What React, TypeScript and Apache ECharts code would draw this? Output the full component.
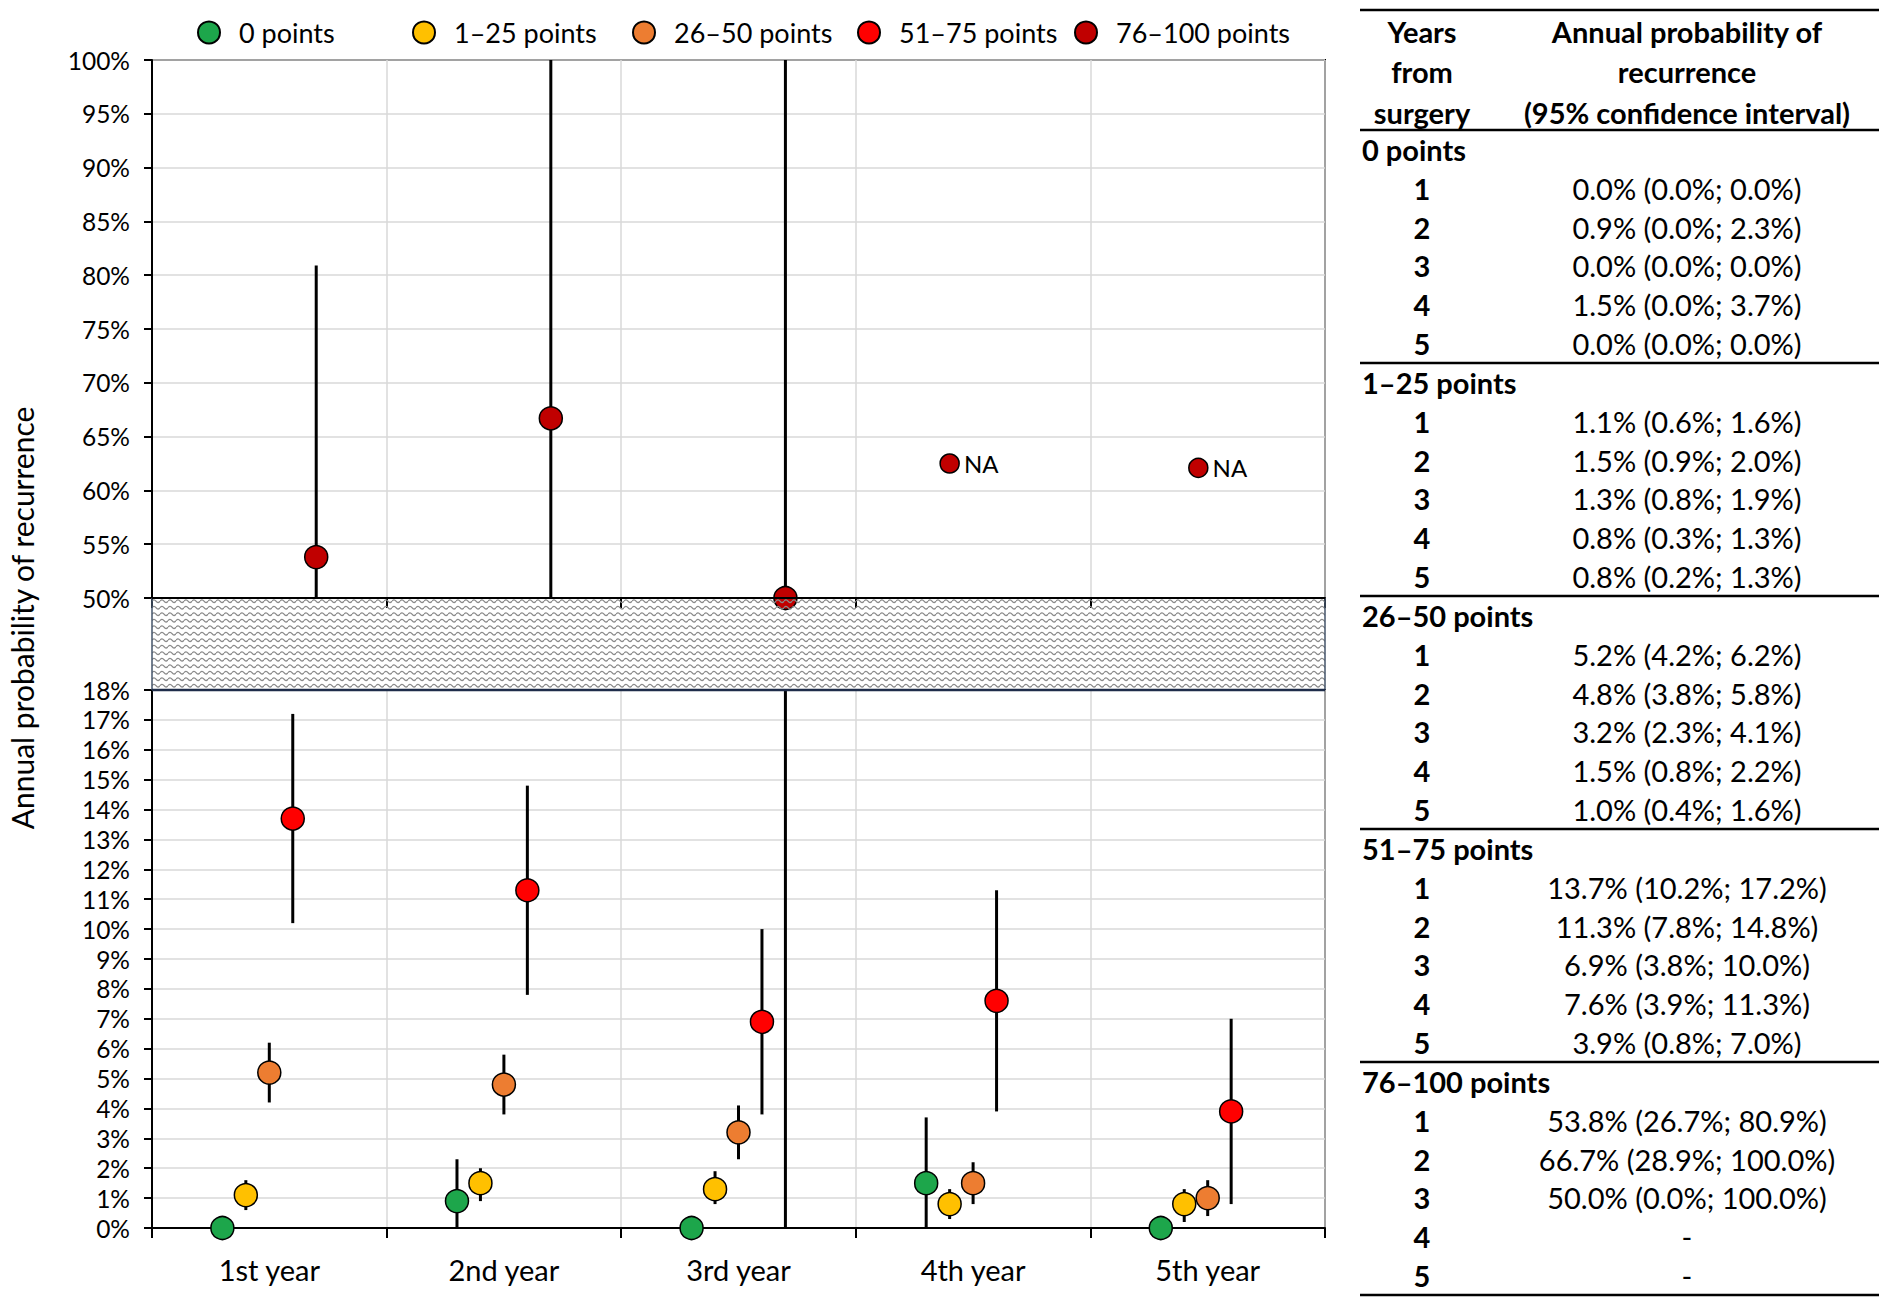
import React, { useEffect, useRef } from "react";
import * as echarts from "echarts";

// ---------- data ----------
const years = ["1st year", "2nd year", "3rd year", "4th year", "5th year"];
const groupNames = ["0 points", "1–25 points", "26–50 points", "51–75 points", "76–100 points"];
const groupColors = ["#1DA64B", "#FFC000", "#ED7D31", "#FF0000", "#C00000"];

const est0 = [0.0, 0.9, 0.0, 1.5, 0.0];
const low0 = [0.0, 0.0, 0.0, 0.0, 0.0];
const high0 = [0.0, 2.3, 0.0, 3.7, 0.0];

const est1 = [1.1, 1.5, 1.3, 0.8, 0.8];
const low1 = [0.6, 0.9, 0.8, 0.3, 0.2];
const high1 = [1.6, 2.0, 1.9, 1.3, 1.3];

const est2 = [5.2, 4.8, 3.2, 1.5, 1.0];
const low2 = [4.2, 3.8, 2.3, 0.8, 0.4];
const high2 = [6.2, 5.8, 4.1, 2.2, 1.6];

const est3 = [13.7, 11.3, 6.9, 7.6, 3.9];
const low3 = [10.2, 7.8, 3.8, 3.9, 0.8];
const high3 = [17.2, 14.8, 10.0, 11.3, 7.0];

const est4: (number | null)[] = [53.8, 66.7, 50.0, null, null];
const low4: (number | null)[] = [26.7, 28.9, 0.0, null, null];
const high4: (number | null)[] = [80.9, 100.0, 100.0, null, null];

// horizontal offset of each group inside its year (in category units)
const groupOffsets = [-0.2, -0.1, 0, 0.1, 0.2];

// "NA" placeholder markers for 76–100 points, years 4 and 5
const naYearIndex = [3, 4];
const naOffset = [-0.1, -0.04];
const naValue = [62.5, 62.1];

const upperRange = { min: 50, max: 100, step: 5 };
const lowerRange = { min: 0, max: 18, step: 1 };

const tableHeaderLeft = ["Years", "from", "surgery"];
const tableHeaderRight = ["Annual probability of", "recurrence", "(95% confidence interval)"];

const estimates = [est0, est1, est2, est3, est4];
const lows = [low0, low1, low2, low3, low4];
const highs = [high0, high1, high2, high3, high4];

// ---------- layout ----------
const W = 1882;
const H = 1305;
const FONT = "Lato, 'Open Sans', 'DejaVu Sans', sans-serif";
const PLOT_LEFT = 152;
const PLOT_W = 1173;
const TOP_Y = 60;
const PANEL_H = 538;
const BAND_Y = TOP_Y + PANEL_H; // 598
const BAND_H = 92;
const BOT_Y = BAND_Y + BAND_H; // 690

const LEGEND_LEFTS = [197, 412, 632, 857, 1074];
const LEGEND_TOP = 19;

const TABLE_L = 1360;
const TABLE_R = 1879;
const COL_NUM_X = 1422;
const COL_VAL_X = 1687;
const GROUP_X = 1362;
const RULE_TOP = 10;
const RULE_HEAD = 130;
const GROUP_STEP = 233;
const ROW_STEP = 38.8;
const TABLE_FONT = 29;

const waveTile =
  "data:image/svg+xml;charset=utf-8," +
  encodeURIComponent(
    '<svg xmlns="http://www.w3.org/2000/svg" width="8" height="13">' +
      '<path d="M0,3.2 Q2,0.4 4,3.2 T8,3.2" fill="none" stroke="#8a8a8a" stroke-width="1.2"/>' +
      '<path d="M0,9.7 Q2,6.9 4,9.7 T8,9.7" fill="none" stroke="#8a8a8a" stroke-width="1.2"/>' +
      "</svg>"
  );

function fmt(v: number | null) {
  return (v as number).toFixed(1) + "%";
}

function buildOption() {
  const errorRows: number[][] = [];
  estimates.forEach((arr, g) => {
    arr.forEach((v, i) => {
      const lo = lows[g][i];
      const hi = highs[g][i];
      if (v == null || lo == null || hi == null) return;
      errorRows.push([i + 0.5 + groupOffsets[g], lo, hi]);
    });
  });

  const makeErrors = (xAxisIndex: number, yAxisIndex: number, range: { min: number; max: number }) => ({
    type: "custom",
    xAxisIndex,
    yAxisIndex,
    silent: true,
    z: 3,
    data: errorRows,
    encode: { x: 0, y: [1, 2] },
    renderItem: (_params: any, api: any) => {
      const x = api.value(0);
      const lo = Math.max(api.value(1), range.min);
      const hi = Math.min(api.value(2), range.max);
      if (!(hi > lo)) return null;
      const p1 = api.coord([x, lo]);
      const p2 = api.coord([x, hi]);
      return {
        type: "line",
        shape: { x1: p1[0], y1: p1[1], x2: p2[0], y2: p2[1] },
        style: { stroke: "#000", lineWidth: 3 },
      };
    },
  });

  const scatterFor = (g: number, panel: "upper" | "lower") => {
    const range = panel === "upper" ? upperRange : lowerRange;
    const data: number[][] = [];
    estimates[g].forEach((v, i) => {
      if (v == null) return;
      if (v < range.min || v > range.max) return;
      data.push([i + 0.5 + groupOffsets[g], v]);
    });
    return {
      type: "scatter",
      name: groupNames[g],
      xAxisIndex: panel === "upper" ? 1 : 3,
      yAxisIndex: panel === "upper" ? 0 : 1,
      data,
      symbol: "circle",
      symbolSize: 23,
      z: 5,
      itemStyle: { color: groupColors[g], borderColor: "#000", borderWidth: 1.5, opacity: 1 },
      emphasis: { disabled: true },
    };
  };

  const series: any[] = [makeErrors(1, 0, upperRange), makeErrors(3, 1, lowerRange)];
  groupNames.forEach((_n, g) => {
    series.push(scatterFor(g, "lower"));
    series.push(scatterFor(g, "upper"));
  });
  series.push({
    type: "scatter",
    name: "NA",
    xAxisIndex: 1,
    yAxisIndex: 0,
    data: naYearIndex.map((yi, k) => [yi + 0.5 + naOffset[k], naValue[k]]),
    symbolSize: 19,
    z: 5,
    itemStyle: { color: groupColors[4], borderColor: "#000", borderWidth: 1.5, opacity: 1 },
    label: {
      show: true,
      formatter: "NA",
      position: "right",
      distance: 4,
      fontFamily: FONT,
      fontSize: 24,
      color: "#000",
    },
    emphasis: { disabled: true },
  });

  const gridLine = { show: true, lineStyle: { color: "#d9d9d9", width: 1.5 } };
  const axisLine = { show: true, lineStyle: { color: "#000", width: 2 } };
  const labelStyle = { fontFamily: FONT, fontSize: 28, color: "#000" };

  const catAxis = (gridIndex: number, showLabels: boolean) => ({
    type: "category",
    gridIndex,
    data: years,
    boundaryGap: true,
    axisLine,
    axisTick: { show: true, length: 10, lineStyle: { color: "#000", width: 2 } },
    axisLabel: { show: showLabels, margin: 27, ...labelStyle, fontSize: 29 },
    splitLine: gridLine,
  });
  const posAxis = (gridIndex: number) => ({
    type: "value",
    gridIndex,
    min: 0,
    max: years.length,
    show: false,
    splitLine: { show: false },
  });
  const valAxis = (gridIndex: number, r: { min: number; max: number; step: number }) => ({
    type: "value",
    gridIndex,
    min: r.min,
    max: r.max,
    interval: r.step,
    axisLine,
    axisTick: { show: true, length: 8, lineStyle: { color: "#000", width: 2 } },
    axisLabel: { ...labelStyle, fontSize: 24.5, margin: 22, lineHeight: 24, formatter: "{value}%" },
    splitLine: gridLine,
  });

  // ----- graphic: break band, axis title, table -----
  const graphics: any[] = [];
  graphics.push({
    type: "rect",
    z: 50,
    shape: { x: PLOT_LEFT, y: BAND_Y + 1, width: PLOT_W, height: BAND_H - 2 },
    style: {
      fill: { image: waveTile, repeat: "repeat", imageWidth: 8, imageHeight: 13 },
      stroke: null,
    },
  });
  graphics.push({
    type: "line",
    z: 51,
    shape: { x1: PLOT_LEFT, y1: BAND_Y, x2: PLOT_LEFT, y2: BOT_Y },
    style: { stroke: "#44546A", lineWidth: 1.5 },
  });
  graphics.push({
    type: "line",
    z: 51,
    shape: { x1: PLOT_LEFT + PLOT_W, y1: BAND_Y, x2: PLOT_LEFT + PLOT_W, y2: BOT_Y },
    style: { stroke: "#44546A", lineWidth: 1.5 },
  });
  graphics.push({
    type: "line",
    z: 51,
    shape: { x1: PLOT_LEFT, y1: BOT_Y, x2: PLOT_LEFT + PLOT_W, y2: BOT_Y },
    style: { stroke: "#1F2D4A", lineWidth: 2.5 },
  });
  graphics.push({
    type: "line",
    z: 51,
    shape: { x1: PLOT_LEFT, y1: BAND_Y, x2: PLOT_LEFT + PLOT_W, y2: BAND_Y },
    style: { stroke: "#000", lineWidth: 2 },
  });
  graphics.push({
    type: "text",
    x: 22,
    y: 618,
    rotation: Math.PI / 2,
    style: {
      text: "Annual probability of recurrence",
      fontFamily: FONT,
      fontSize: 30,
      fill: "#000",
      align: "center",
      verticalAlign: "middle",
    },
  });

  const tText = (text: string, x: number, y: number, align: string, bold: boolean) => ({
    type: "text",
    x,
    y,
    style: {
      text,
      fontFamily: FONT,
      fontSize: TABLE_FONT,
      fontWeight: bold ? "bold" : "normal",
      fill: "#000",
      align,
      verticalAlign: "middle",
    },
  });
  const rule = (y: number) => ({
    type: "line",
    shape: { x1: TABLE_L, y1: y, x2: TABLE_R, y2: y },
    style: { stroke: "#000", lineWidth: 2.5 },
  });

  graphics.push(rule(RULE_TOP));
  const headYs = [31, 71, 112];
  tableHeaderLeft.forEach((t, i) => graphics.push(tText(t, COL_NUM_X, headYs[i], "center", true)));
  tableHeaderRight.forEach((t, i) => graphics.push(tText(t, COL_VAL_X, headYs[i], "center", true)));
  graphics.push(rule(RULE_HEAD));
  groupNames.forEach((name, g) => {
    const base = RULE_HEAD + GROUP_STEP * g;
    const labelY = base + 19.5;
    graphics.push(tText(name, GROUP_X, labelY, "left", true));
    years.forEach((_y, i) => {
      const ry = labelY + ROW_STEP * (i + 1);
      graphics.push(tText(String(i + 1), COL_NUM_X, ry, "center", true));
      const v = estimates[g][i];
      const txt = v == null ? "-" : `${fmt(v)} (${fmt(lows[g][i])}; ${fmt(highs[g][i])})`;
      graphics.push(tText(txt, COL_VAL_X, ry, "center", false));
    });
    graphics.push(rule(base + GROUP_STEP));
  });

  const legends = groupNames.map((name, g) => ({
    data: [name],
    left: LEGEND_LEFTS[g],
    top: LEGEND_TOP,
    padding: 0,
    itemWidth: 22,
    itemHeight: 22,
    icon: "circle",
    selectedMode: false,
    textStyle: {
      fontFamily: FONT,
      fontSize: 27,
      color: "#000",
      padding: [0, 0, 0, 14],
    },
  }));

  return {
    animation: false,
    backgroundColor: "#fff",
    legend: legends,
    grid: [
      {
        left: PLOT_LEFT,
        top: TOP_Y,
        width: PLOT_W,
        height: PANEL_H,
        show: true,
        borderColor: "#000",
        borderWidth: 2,
        backgroundColor: "transparent",
      },
      {
        left: PLOT_LEFT,
        top: BOT_Y,
        width: PLOT_W,
        height: PANEL_H,
        show: true,
        borderColor: "#000",
        borderWidth: 2,
        backgroundColor: "transparent",
      },
    ],
    xAxis: [catAxis(0, false), posAxis(0), catAxis(1, true), posAxis(1)],
    yAxis: [valAxis(0, upperRange), valAxis(1, lowerRange)],
    series,
    graphic: { elements: graphics },
  };
}

export default function App() {
  const ref = useRef<HTMLDivElement>(null);
  useEffect(() => {
    if (!ref.current) return;
    const chart = echarts.init(ref.current, undefined, { renderer: "svg" });
    chart.setOption(buildOption() as any);
    return () => chart.dispose();
  }, []);
  return (
    <div
      ref={ref}
      style={{ position: "absolute", left: 0, top: 0, width: W, height: H, background: "#fff" }}
    />
  );
}
